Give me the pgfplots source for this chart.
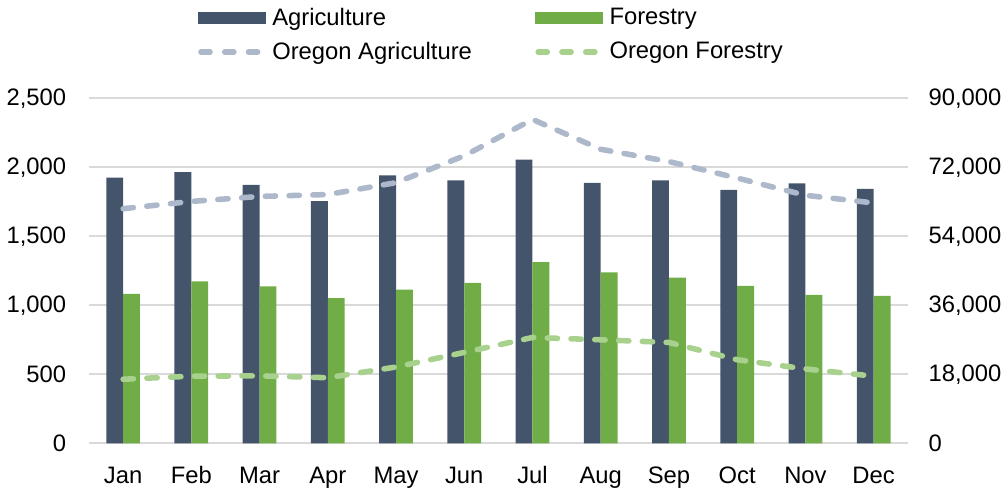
\documentclass[border=0pt]{standalone}
\usepackage{fontspec}
\setmainfont{Liberation Sans}
\usepackage{pgfplots}
\pgfplotsset{compat=1.18}
\definecolor{agri}{HTML}{44546A}
\definecolor{fore}{HTML}{70AD47}
\definecolor{oragri}{HTML}{ADB9CA}
\definecolor{orfore}{HTML}{A9D18E}
\definecolor{gridc}{HTML}{D9D9D9}
\begin{document}
\begin{tikzpicture}
\begin{axis}[
  scale only axis, width=413pt, height=174pt,
  xmin=-0.5, xmax=11.5, ymin=0, ymax=2500,
  ytick={0,500,...,2500},
  xtick={0,...,11},
  xticklabels={Jan,Feb,Mar,Apr,May,Jun,Jul,Aug,Sep,Oct,Nov,Dec},
  ybar=0pt, bar width=8.5pt,
  axis line style={draw=none},
  tick style={draw=none},
  ymajorgrids, grid style={gridc, line width=1pt},
  tick label style={font=\fontsize{12}{14}\selectfont},
  /pgf/number format/assume math mode=true,
  /pgf/number format/1000 sep={,},
  yticklabel style={xshift=-8pt},
  xticklabel style={anchor=north, yshift=-7pt, text height=9pt, text depth=2.5pt, inner sep=0pt},
  legend columns=2,
  legend cell align=left,
  legend style={at={(0.5,1)}, anchor=south, yshift=14pt, xshift=-3pt,
    draw=none, font=\fontsize{12}{14}\selectfont, row sep=3pt,
    /tikz/every even column/.append style={column sep=30pt}},
]
\addplot[fill=agri, draw=none,
  legend image code/.code={\fill[agri] (0pt,-3.2pt) rectangle (34pt,3.2pt);}]
  coordinates {(0,1925) (1,1965) (2,1873) (3,1755) (4,1942) (5,1906) (6,2055) (7,1887) (8,1906) (9,1837) (10,1884) (11,1844)};
\addlegendentry{Agriculture}
\addplot[fill=fore, draw=none,
  legend image code/.code={\fill[fore] (0pt,-3.2pt) rectangle (34pt,3.2pt);}]
  coordinates {(0,1082) (1,1173) (2,1137) (3,1051) (4,1113) (5,1162) (6,1312) (7,1238) (8,1200) (9,1140) (10,1075) (11,1068)};
\addlegendentry{Forestry}
\addlegendimage{legend image code/.code={\draw[oragri, line width=2.8pt, line cap=round, dash pattern=on 4.6pt off 7.4pt] (1.4pt,0pt) -- (34pt,0pt);}}
\addlegendentry{Oregon Agriculture}
\addlegendimage{legend image code/.code={\draw[orfore, line width=2.8pt, line cap=round, dash pattern=on 4.6pt off 7.4pt] (1.4pt,0pt) -- (34pt,0pt);}}
\addlegendentry{Oregon Forestry}
\end{axis}
\begin{axis}[
  scale only axis, width=413pt, height=174pt,
  xmin=-0.5, xmax=11.5, ymin=0, ymax=90000,
  ytick={0,18000,...,90000},
  scaled y ticks=false,
  xtick=\empty,
  axis y line*=right,
  axis x line=none,
  axis line style={draw=none},
  tick style={draw=none},
  tick label style={font=\fontsize{12}{14}\selectfont},
  /pgf/number format/assume math mode=true,
  /pgf/number format/1000 sep={,},
  yticklabel style={xshift=7pt},
]
\addplot[oragri, line width=2.8pt, line cap=round, dash pattern=on 5.2pt off 6.8pt]
  coordinates {(0,61200) (1,63100) (2,64400) (3,64900) (4,68000) (5,75000) (6,84500) (7,76700) (8,73500) (9,69200) (10,64700) (11,62700)};
\addplot[orfore, line width=2.8pt, line cap=round, dash pattern=on 5.2pt off 6.8pt]
  coordinates {(0,16700) (1,17500) (2,17600) (3,17100) (4,19900) (5,23700) (6,27600) (7,27000) (8,26300) (9,21800) (10,19400) (11,17500)};
\end{axis}
\end{tikzpicture}
\end{document}
